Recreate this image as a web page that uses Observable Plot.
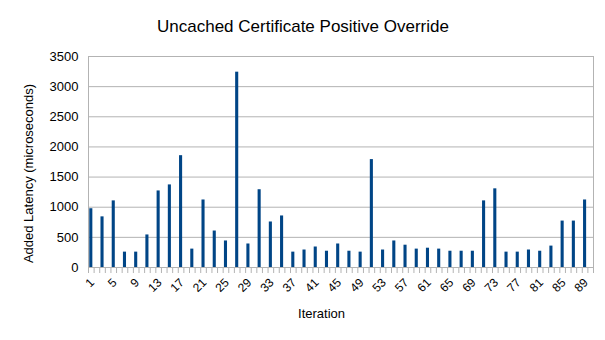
<!DOCTYPE html>
<html><head><meta charset="utf-8">
<script src="https://cdn.jsdelivr.net/npm/d3@7"></script>
<script src="https://cdn.jsdelivr.net/npm/@observablehq/plot@0.6"></script>
<style>body{margin:0;background:#fff}</style>
</head><body><div id="chart"></div>
<script>
const iterations = [1,3,5,7,9,11,13,15,17,19,21,23,25,27,29,31,33,35,37,39,41,43,45,47,49,51,53,55,57,59,61,63,65,67,69,71,73,75,77,79,81,83,85,87,89];
const latency = [975,840,1105,255,255,540,1270,1370,1855,305,1120,605,440,3240,390,1290,755,855,255,290,340,270,390,270,255,1790,290,440,370,305,320,305,270,270,270,1105,1305,255,255,290,270,355,770,770,1120];
const allIterations = d3.range(1, 91);
const xTickLabels = [1,5,9,13,17,21,25,29,33,37,41,45,49,53,57,61,65,69,73,77,81,85,89];
const yTicks = [0,500,1000,1500,2000,2500,3000,3500];
const title = "Uncached Certificate Positive Override";
const xLabel = "Iteration";
const yLabel = "Added Latency (microseconds)";

const data = iterations.map((it, i) => ({iteration: it, latency: latency[i]}));

const W = 605, H = 340, mL = 88, mR = 12, mT = 56, mB = 73;
const step = (W - mL - mR) / allIterations.length;
const grid = "#b3b3b3";

const chart = Plot.plot({
  width: W, height: H,
  marginLeft: mL, marginRight: mR, marginTop: mT, marginBottom: mB,
  style: {fontFamily: "'Liberation Sans', Arial, sans-serif", fontSize: "12px", background: "#fff", color: "#000"},
  x: {type: "band", domain: allIterations, paddingInner: 0.45, paddingOuter: 0.225, label: null},
  y: {domain: [0, 3500], label: null},
  marks: [
    Plot.gridY(yTicks, {stroke: grid, strokeOpacity: 1}),
    Plot.frame({stroke: grid}),
    Plot.barY(data, {x: "iteration", y: "latency", fill: "#004586"}),
    Plot.axisY({ticks: yTicks, tickSize: 0, tickPadding: 10, fontSize: 13, tickFormat: d3.format("d"), label: null}),
    Plot.axisX({ticks: allIterations, tickSize: 6, stroke: grid, tickFormat: () => "", dx: -step / 2, label: null}),
    Plot.axisX({ticks: [allIterations[allIterations.length - 1]], tickSize: 6, stroke: grid, tickFormat: () => "", dx: step / 2, label: null}),
    Plot.axisX({ticks: xTickLabels, tickSize: 0, tickPadding: 13, tickRotate: -45, fontSize: 12, dx: 1, label: null}),
    Plot.text([title], {text: d => d, frameAnchor: "top", lineAnchor: "middle", dx: -38, dy: -30, fontSize: 17}),
    Plot.text([yLabel], {text: d => d, frameAnchor: "left", textAnchor: "middle", lineAnchor: "middle", rotate: -90, dx: -60, dy: 11.5, fontSize: 13}),
    Plot.text([xLabel], {text: d => d, frameAnchor: "bottom", lineAnchor: "middle", dx: -19.5, dy: 46.5, fontSize: 13})
  ]
});
document.getElementById("chart").appendChild(chart);
</script>
</body></html>
